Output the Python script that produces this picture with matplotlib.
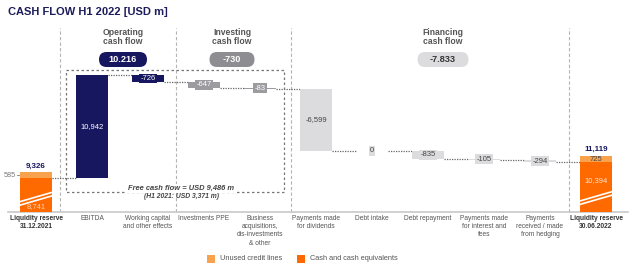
import matplotlib
matplotlib.use('Agg')
import matplotlib.pyplot as plt
from matplotlib.patches import FancyBboxPatch, Rectangle

plt.rcParams['font.family'] = ['Liberation Sans', 'DejaVu Sans']

# data
categories = ['Liquidity reserve\n31.12.2021', 'EBITDA', 'Working capital\nand other effects',
              'Investments PPE', 'Business\nacquisitions,\ndis-investments\n& other',
              'Payments made\nfor dividends', 'Debt intake', 'Debt repayment',
              'Payments made\nfor interest and\nfees', 'Payments\nreceived / made\nfrom hedging',
              'Liquidity reserve\n30.06.2022']
flows = [10942, -726, -647, -83, -6599, 0, -835, -105, -294]
flow_group = ['op', 'op', 'inv', 'inv', 'fin', 'fin', 'fin', 'fin', 'fin']
cash_start, credit_start = 8741, 585
cash_end, credit_end = 10394, 725
fcf_prev = 3371

NAVY = '#17175f'
ORANGE = '#ff6a00'
LORANGE = '#f8a24e'
GRAY = '#9c9ca0'
LGRAY = '#dcdcdf'
TXT = '#555555'
group_color = {'op': NAVY, 'inv': GRAY, 'fin': LGRAY}
group_txt = {'op': 'white', 'inv': 'white', 'fin': '#444444'}

UNIT = 106.2        # USD m per pixel
X0, DX = 36, 56     # pixel of first category, pixel step
LEVEL_PX = 178      # pixel row of cash_start level


def vy(py):
    return cash_start - (py - LEVEL_PX) * UNIT


def xi(px):
    return (px - X0) / DX


def fmt(v):
    return f'{v:,}'


fig = plt.figure(figsize=(6.4, 2.65), dpi=100)
ax = fig.add_axes([0, 0, 1, 1])
ax.set_xlim(xi(0), xi(640))
ax.set_ylim(vy(265), vy(0))
ax.axis('off')

ov = fig.add_axes([0, 0, 1, 1], zorder=5)
ov.set_xlim(0, 640)
ov.set_ylim(265, 0)
ov.axis('off')
ov.patch.set_alpha(0)

base = vy(212)
w = 0.56
n = len(categories)

# baseline
ax.plot([xi(8), xi(628)], [base, base], color='#c8c8c8', lw=1.2, zorder=1)

# group separators
for px in [60, 176, 291, 569]:
    ax.plot([xi(px), xi(px)], [base, vy(28)], color='#b4b4b4', lw=0.8,
            ls=(0, (3, 2)), zorder=0)

# start / end liquidity bars
for i, cash, credit in [(0, cash_start, credit_start), (n - 1, cash_end, credit_end)]:
    ax.bar(i, cash - base, bottom=base, width=w, color=ORANGE, zorder=3)
    ax.bar(i, credit, bottom=cash, width=w, color=LORANGE, zorder=3)
    ax.text(i, cash + credit + 3 * UNIT, fmt(cash + credit), ha='center', va='bottom',
            fontsize=5.8, fontweight='bold', color=NAVY, zorder=6)

ax.text(0, base + 2 * UNIT, fmt(cash_start), ha='center', va='bottom', fontsize=5.5,
        color='#ffd2b0', zorder=6)
ax.text(xi(16), cash_start + credit_start / 2, fmt(credit_start), ha='right', va='center',
        fontsize=5.3, color='#777777')
ax.plot([xi(16.5), xi(20)], [cash_start + credit_start / 2] * 2, color='#999999', lw=0.8)
ax.text(n - 1, cash_end + credit_end / 2, fmt(credit_end), ha='center', va='center',
        fontsize=5.5, color='#444444', zorder=6)
ax.text(n - 1, vy(181), fmt(cash_end), ha='center', va='center', fontsize=5.5,
        color='#ffe2cc', zorder=6)

# waterfall
level = cash_start
prev_right = 0 + w / 2
for k, (f, g) in enumerate(zip(flows, flow_group)):
    i = k + 1
    ax.plot([prev_right, i - w / 2], [level, level], color='#666666', lw=0.9,
            ls=(0, (1, 1)), zorder=2)
    new = level + f
    ax.bar(i, abs(f), bottom=min(level, new), width=w, color=group_color[g], zorder=3)
    mid = (level + new) / 2
    lab = fmt(f)
    if abs(f) > 3000:
        ax.text(i, mid, lab, ha='center', va='center', fontsize=5.5,
                color=group_txt[g], zorder=6)
    else:
        ax.text(i, mid, lab, ha='center', va='center', fontsize=5.5, color=group_txt[g],
                zorder=6, bbox=dict(boxstyle='square,pad=0.18', fc=group_color[g], ec='none'))
    level = new
    prev_right = i + w / 2
ax.plot([prev_right, n - 1 - w / 2], [level, level], color='#666666', lw=0.9,
        ls=(0, (1, 1)), zorder=2)

# x labels
for i, c in enumerate(categories):
    bold = c.startswith('Liquidity')
    ax.text(i, vy(215), c, ha='center', va='top', fontsize=4.8, linespacing=1.25,
            fontweight='bold' if bold else 'normal', color='#333333' if bold else TXT)

# free cash flow box
fcf = sum(f for f, g in zip(flows, flow_group) if g in ('op', 'inv'))
ov.add_patch(Rectangle((66, 70), 218, 122, fill=False, ec='#777777', lw=0.9,
                       ls=(0, (2, 2)), zorder=1))
ov.text(181, 188.5, f'Free cash flow = USD {fcf:,} m', ha='center', va='center',
        fontsize=5.4, fontweight='bold', fontstyle='italic', color='#444444',
        bbox=dict(boxstyle='square,pad=0.1', fc='white', ec='none'))
ov.text(181, 197, f'(H1 2021: USD {fcf_prev:,} m)', ha='center', va='center',
        fontsize=4.9, fontweight='bold', fontstyle='italic', color='#444444')

# group headers and pills
headers = [('Operating\ncash flow', 'op', 123, 48, NAVY, 'white'),
           ('Investing\ncash flow', 'inv', 232, 45, '#8e8e92', 'white'),
           ('Financing\ncash flow', 'fin', 443, 51, LGRAY, '#333333')]
for name, g, cx, pw, fc, tc in headers:
    total = sum(f for f, gg in zip(flows, flow_group) if gg == g)
    ov.text(cx, 37, name, ha='center', va='center', fontsize=6.2, fontweight='bold',
            color=TXT, linespacing=1.1)
    ov.add_patch(FancyBboxPatch((cx - pw / 2, 52), pw, 15,
                                boxstyle='round,pad=0,rounding_size=7.5', fc=fc, ec='none'))
    ov.text(cx, 59.5, f'{total:,}'.replace(',', '.'), ha='center', va='center',
            fontsize=6.6, fontweight='bold', color=tc)

# axis break slashes
for cx, yc in [(36, 197), (597, 196)]:
    for off in (0, 3.5):
        ov.plot([cx - 19, cx + 19], [yc + 5.5 + off, yc - 5.5 + off], color='white',
                lw=1.2, solid_capstyle='butt')

# legend
for x0, col, lab in [(207, LORANGE, 'Unused credit lines'),
                     (297, ORANGE, 'Cash and cash equivalents')]:
    ov.add_patch(Rectangle((x0, 255), 8, 8, fc=col, ec='none'))
    ov.text(x0 + 13, 259, lab, ha='left', va='center', fontsize=5.3, color=TXT)

# title
fig.text(8 / 640, 1 - 12 / 265, 'CASH FLOW H1 2022 [USD m]', ha='left', va='center',
         fontsize=8.0, fontweight='bold', color='#1c1c5c')

fig.savefig('out.png', dpi=100)
